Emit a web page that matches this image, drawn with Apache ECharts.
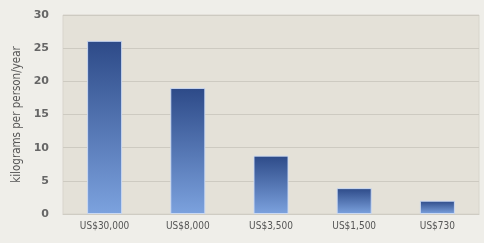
<!DOCTYPE html>
<html>
<head>
<meta charset="utf-8">
<script src="https://cdn.jsdelivr.net/npm/echarts@6/dist/echarts.min.js"></script>
<style>
  html, body { margin: 0; padding: 0; background: #efeee9; }
  #chart { width: 484px; height: 243px; }
</style>
</head>
<body>
<div id="chart"></div>
<script>
// income levels (per capita) and meat consumption
var categories = ['US$30,000', 'US$8,000', 'US$3,500', 'US$1,500', 'US$730']
var consumption = [26.1, 19, 8.8, 3.9, 2.0]
var yTicks = [0, 5, 10, 15, 20, 25, 30]

var myChart = echarts.init(document.getElementById('chart'))
myChart.setOption({
  backgroundColor: '#efeee9',
  animation: false,
  grid: {
    left: 63,
    right: 5,
    top: 15,
    bottom: 29,
    show: true,
    backgroundColor: '#e4e1d8',
    borderColor: '#d8d5cc',
    borderWidth: 1
  },
  xAxis: {
    type: 'category',
    data: categories,
    axisLine: { show: true, lineStyle: { color: '#cfccc3' } },
    axisTick: { show: false },
    axisLabel: {
      color: '#555',
      fontSize: 10,
      fontFamily: 'DejaVu Sans Condensed',
      margin: 7
    }
  },
  yAxis: {
    type: 'value',
    min: yTicks[0],
    max: yTicks[yTicks.length - 1],
    interval: 5,
    name: 'kilograms per person/year',
    nameLocation: 'middle',
    nameGap: 36,
    nameTextStyle: { color: '#555', fontSize: 11.5, fontFamily: 'DejaVu Sans Condensed' },
    axisLine: { show: false },
    axisTick: { show: false },
    axisLabel: {
      color: '#666',
      fontSize: 11,
      fontWeight: 'bold',
      fontFamily: 'DejaVu Sans',
      margin: 14
    },
    splitLine: { lineStyle: { color: '#cdcac1', width: 1 } }
  },
  series: [{
    type: 'bar',
    data: consumption,
    barWidth: 35,
    itemStyle: {
      color: new echarts.graphic.LinearGradient(0, 0, 0, 1, [
        { offset: 0, color: '#2d4a88' },
        { offset: 1, color: '#7ca2de' }
      ]),
      borderColor: 'rgba(205,220,245,0.9)',
      borderWidth: 1
    }
  }]
})
</script>
</body>
</html>
